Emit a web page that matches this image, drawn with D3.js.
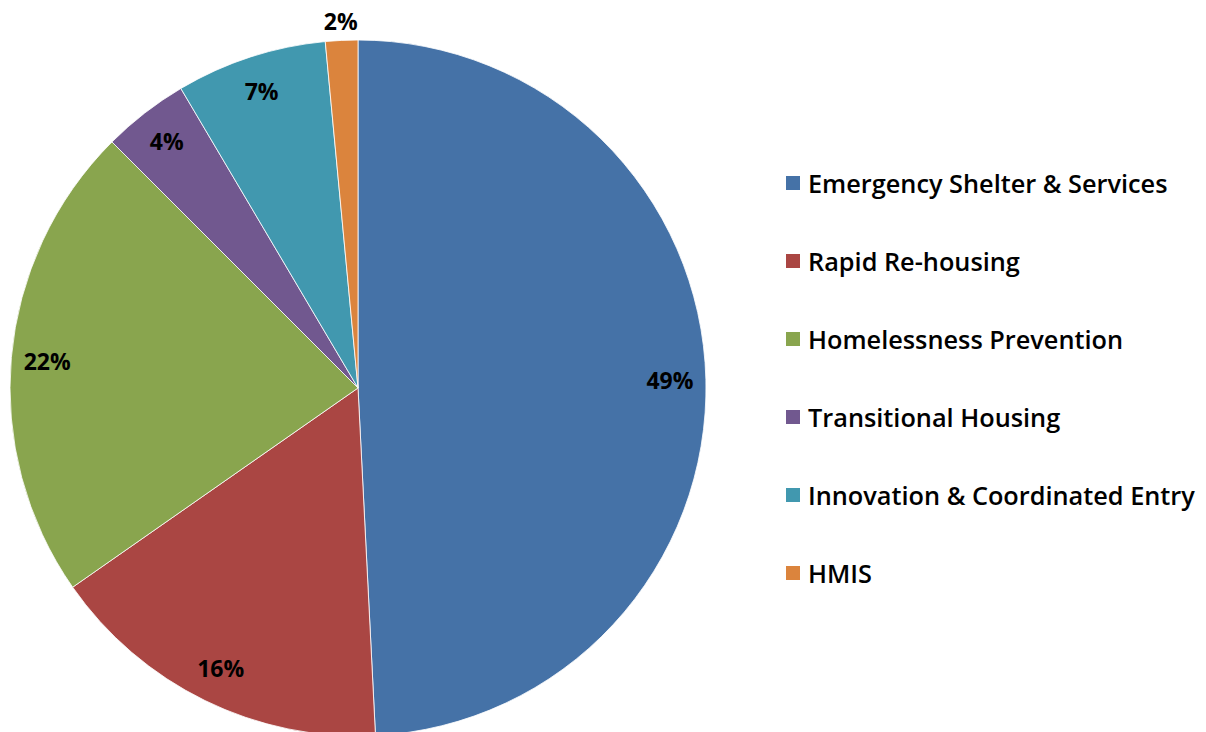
<!DOCTYPE html>
<html>
<head>
<meta charset="utf-8">
<script src="https://cdn.jsdelivr.net/npm/d3@7"></script>
<style>
  body { margin: 0; background: #fff; }
  text { font-family: "Open Sans", Roboto, "Liberation Sans", sans-serif; }
</style>
</head>
<body>
<div id="chart"></div>
<script>
(function() {
    "use strict";
    var categories = ["Emergency Shelter & Services", "Rapid Re-housing", "Homelessness Prevention",
        "Transitional Housing", "Innovation & Coordinated Entry", "HMIS"];
    var values = [49.2, 16.1, 22.2, 4.0, 7.0, 1.5];
    var labels = ["49%", "16%", "22%", "4%", "7%", "2%"];
    var colors = ["#4572A7", "#AA4643", "#89A54E", "#71588F", "#4198AF", "#DB843D"];

    var width = 1206, height = 732;
    var cx = 358, cy = 388, radius = 348;

    var svg = d3.select("#chart").append("svg")
        .attr("width", width).attr("height", height);

    var pie = d3.pie().sort(null).value(function(d) { return d; });
    var arc = d3.arc().innerRadius(0).outerRadius(radius);
    var labelArc = d3.arc().innerRadius(312).outerRadius(312);
    var outerArc = d3.arc().innerRadius(367).outerRadius(367);

    var arcs = pie(values);
    var g = svg.append("g").attr("transform", "translate(" + cx + "," + cy + ")");

    g.selectAll("path.slice").data(arcs).enter().append("path")
        .attr("class", "slice")
        .attr("d", arc)
        .attr("fill", function(d, i) { return colors[i]; })
        .attr("stroke", "#fff")
        .attr("stroke-width", 0.8);

    g.selectAll("text.lbl").data(arcs).enter().append("text")
        .attr("class", "lbl")
        .attr("transform", function(d) {
            var p = d.data < 2 ? outerArc.centroid(d) : labelArc.centroid(d);
            return "translate(" + p + ")";
        })
        .attr("text-anchor", "middle")
        .attr("dominant-baseline", "central")
        .attr("font-size", 23)
        .attr("font-weight", "bold")
        .attr("fill", "#000")
        .text(function(d, i) { return labels[i]; });

    // legend
    var legend = svg.append("g").attr("transform", "translate(786,183)");
    var item = legend.selectAll("g").data(categories).enter().append("g")
        .attr("transform", function(d, i) { return "translate(0," + (i * 78) + ")"; });
    item.append("rect")
        .attr("x", 0).attr("y", -7).attr("width", 14).attr("height", 14)
        .attr("fill", function(d, i) { return colors[i]; });
    item.append("text")
        .attr("x", 22).attr("y", 0)
        .attr("dominant-baseline", "central")
        .attr("font-size", 25.3)
        .attr("font-weight", 600)
        .attr("fill", "#000")
        .text(function(d) { return d; });
}());
</script>
</body>
</html>
